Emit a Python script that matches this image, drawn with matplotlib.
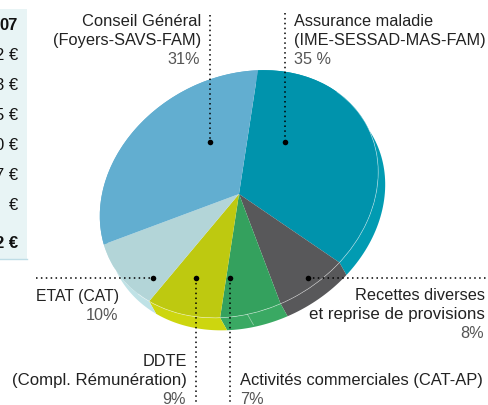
import numpy as np
import matplotlib
matplotlib.use("Agg")
import matplotlib.pyplot as plt
from matplotlib.transforms import Affine2D
from matplotlib.patches import Polygon, Rectangle, Arc

plt.rcParams['font.family'] = ['Liberation Sans', 'DejaVu Sans']

shares = [35, 8, 7, 9, 10, 31]
top_colors = ['#0093AC', '#58585A', '#34A15E', '#BEC910', '#B3D5D8', '#62AED0']
side_colors = ['#019BB2', '#58585A', '#3AA963', '#CDD60F', '#BFE2E6', '#62AED0']
start_angle = 58.7

table_labels = ['07', '2 €', '3 €', '5 €', '0 €', '7 €', '€', '2 €']
table_bold = [True, False, False, False, False, False, False, True]
table_rows = [26, 56, 86, 116, 146, 176, 206, 244]

fig = plt.figure(figsize=(4.88, 4.05), dpi=100)
ax = fig.add_axes([0, 0, 1, 1])

wedges, _ = ax.pie(shares, colors=top_colors, startangle=start_angle,
                   counterclock=False, radius=1,
                   wedgeprops=dict(linewidth=0.5, edgecolor='none'))
ax.set_aspect('auto')
ax.set_xlim(0, 488)
ax.set_ylim(405, 0)
ax.axis('off')

ellipse = Affine2D().scale(145, 117).rotate_deg(28.3).scale(1, -1).translate(239, 194)
T = ellipse + ax.transData
for w in wedges:
    w.set_transform(T)
    w.set_zorder(3)

# extruded rim: sweep of each slice's outer arc along the depth offset
depth = Affine2D().translate(7, 12.5)
angles = start_angle - np.cumsum([0] + shares) * 3.6
for i, c in enumerate(side_colors):
    th = np.radians(np.linspace(angles[i], angles[i + 1], 80))
    arc = np.column_stack([np.cos(th), np.sin(th)])
    upper = ellipse.transform(arc)
    lower = depth.transform(upper)
    ax.add_patch(Polygon(np.vstack([upper, lower[::-1]]), closed=True,
                         facecolor=c, edgecolor='none', zorder=2))

# thin highlight along the top surface edge
ax.add_patch(Arc((0, 0), 2, 2, theta1=-160, theta2=22, transform=T,
                 edgecolor='#FFFFFF', alpha=0.5, linewidth=0.5, zorder=4))
th = np.radians(-110)
p = ellipse.transform([[np.cos(th), np.sin(th)]])
ax.plot([p[0, 0], p[0, 0] + 6], [p[0, 1], p[0, 1] + 10.5], color='#FFFFFF',
        alpha=0.5, lw=0.5, zorder=4)

# table fragment
ax.add_patch(Rectangle((0, 9), 27, 250, facecolor='#E8F4F5', edgecolor='none', zorder=1))
ax.plot([0, 27], [259, 259], color='#BFDDE6', lw=1, zorder=1)
for lab, b, y in zip(table_labels, table_bold, table_rows):
    ax.text(18, y, lab, ha='right', va='center', fontsize=12,
            fontweight='bold' if b else 'normal', color='#111111')

# leaders
dot = dict(color='black', lw=1.1, linestyle=(0, (1, 2.2)), zorder=5)
ax.plot([209.5, 209.5], [15, 142], **dot)
ax.plot([285, 285], [13, 142], **dot)
ax.plot([36, 152.5], [278, 278], **dot)
ax.plot([195.5, 195.5], [278, 405], **dot)
ax.plot([229.5, 229.5], [278, 405], **dot)
ax.plot([307.5, 488], [278, 278], **dot)
ax.scatter([209.5, 285, 152.5, 195.5, 229.5, 307.5], [142, 142, 278, 278, 278, 278],
           s=16, color='black', zorder=6, linewidths=0)

dark = '#222222'
grey = '#555555'
fs = 11.7
def txt(x, y, s, ha, c=dark, size=fs):
    ax.text(x, y, s, ha=ha, va='center', fontsize=size, color=c, zorder=7)

txt(201, 21, 'Conseil Général', 'right', size=11.9)
txt(201, 40, '(Foyers-SAVS-FAM)', 'right', size=11.8)
txt(200, 60, '31%', 'right', grey)
txt(294, 21, 'Assurance maladie', 'left')
txt(294, 40, '(IME-SESSAD-MAS-FAM)', 'left')
txt(294, 60, '35 %', 'left', grey)
txt(119, 296, 'ETAT (CAT)', 'right', size=11.3)
txt(118, 315, '10%', 'right', grey)
txt(485, 296, 'Recettes diverses', 'right')
txt(485, 315, 'et reprise de provisions', 'right', size=12.2)
txt(484, 334, '8%', 'right', grey)
txt(187, 361, 'DDTE', 'right')
txt(187, 381, '(Compl. Rémunération)', 'right', size=12.1)
txt(186, 400, '9%', 'right', grey)
txt(240, 381, 'Activités commerciales (CAT-AP)', 'left', size=11.9)
txt(240, 400, '7%', 'left', grey)

fig.savefig('out.png', dpi=100)
